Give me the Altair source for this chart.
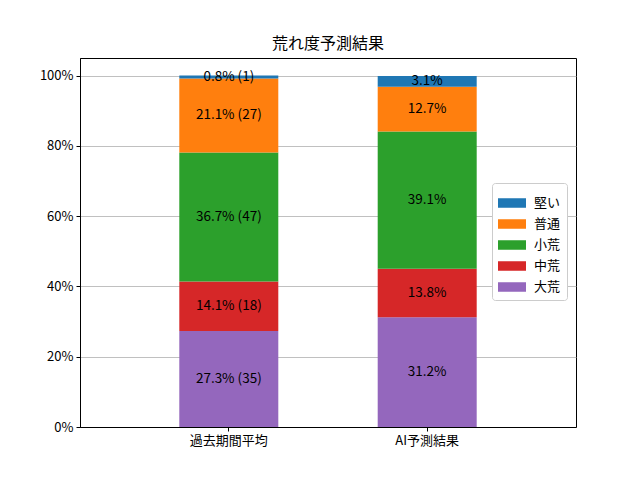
import altair as alt
import pandas as pd

categories = ["過去期間平均", "AI予測結果"]
levels = ["大荒", "中荒", "小荒", "普通", "堅い"]  # bottom -> top
past_pct = [27.3, 14.1, 36.7, 21.1, 0.8]
past_cnt = [35, 18, 47, 27, 1]
ai_pct = [31.2, 13.8, 39.1, 12.7, 3.1]
legend_order = ["堅い", "普通", "小荒", "中荒", "大荒"]
colors = ["#1f77b4", "#ff7f0e", "#2ca02c", "#d62728", "#9467bd"]

rows = []
for i, lv in enumerate(levels):
    rows.append({"cat": categories[0], "level": lv, "order": i, "pct": past_pct[i],
                 "label": f"{past_pct[i]:.1f}% ({past_cnt[i]})"})
for i, lv in enumerate(levels):
    rows.append({"cat": categories[1], "level": lv, "order": i, "pct": ai_pct[i],
                 "label": f"{ai_pct[i]:.1f}%"})
df = pd.DataFrame(rows)

FONT = "Noto Sans CJK JP"

base = alt.Chart(df).transform_stack(
    stack="pct", groupby=["cat"], as_=["y0", "y1"],
    sort=[alt.SortField("order", order="ascending")]
).transform_calculate(mid="(datum.y0 + datum.y1) / 2")

xenc = alt.X("cat:N", sort=categories, title=None,
             scale=alt.Scale(paddingInner=0.5, paddingOuter=0.5),
             axis=alt.Axis(labelAngle=0, labelFont=FONT, labelFontSize=13,
                           labelColor="black", tickColor="black", tickSize=4,
                           domainColor="black", labelPadding=3, grid=False))

yscale = alt.Scale(domain=[0, 105], nice=False)

bars = base.mark_bar(size=99, stroke=None).encode(
    x=xenc,
    y=alt.Y("y0:Q", scale=yscale, title=None,
            axis=alt.Axis(values=[0, 20, 40, 60, 80, 100],
                          labelExpr="datum.value + '%'",
                          labelFont=FONT, labelFontSize=13, labelColor="black",
                          tickColor="black", tickSize=4, domainColor="black",
                          labelPadding=3, grid=True, gridColor="#b0b0b0",
                          gridWidth=0.8)),
    y2="y1:Q",
    color=alt.Color("level:N",
                    scale=alt.Scale(domain=legend_order, range=colors),
                    legend=alt.Legend(title=None, orient="none",
                                      legendX=412, legendY=125,
                                      symbolType="M-1,-0.34H1V0.34H-1Z",
                                      symbolSize=784, symbolStrokeWidth=0,
                                      labelFont=FONT, labelFontSize=13,
                                      labelColor="black", labelOffset=8,
                                      rowPadding=0, padding=6,
                                      fillColor="white", strokeColor="#cccccc",
                                      cornerRadius=3)),
    order=alt.Order("order:Q"),
)

texts = base.mark_text(font=FONT, fontSize=13.5, color="black").encode(
    x=alt.X("cat:N", sort=categories),
    y=alt.Y("mid:Q", scale=yscale),
    text="label:N",
)

chart = alt.layer(bars, texts).properties(
    width=496, height=369,
    title=alt.Title("荒れ度予測結果", font=FONT, fontSize=16, fontWeight="normal",
                    color="black", anchor="middle", offset=6),
    autosize=alt.AutoSizeParams(type="none"),
    padding={"left": 72, "top": 50, "right": 56, "bottom": 45},
).configure_view(stroke="black", strokeWidth=1)

chart.save("out.html", embed_options={"renderer": "svg", "actions": False})
